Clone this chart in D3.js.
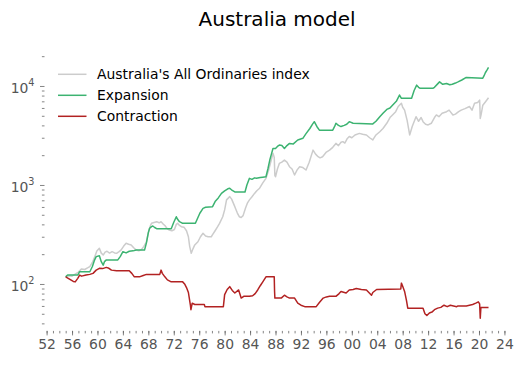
<!DOCTYPE html>
<html><head><meta charset="utf-8">
<script src="https://cdn.jsdelivr.net/npm/d3@7"></script>
<style>
body{margin:0;background:#fff}
svg{display:block}
text{font-family:"DejaVu Sans",sans-serif}
</style>
</head><body>
<svg id="chart" width="523" height="366"></svg>
<script>
const chartTitle = "Australia model";
const seriesNames = ["Australia's All Ordinaries index", "Expansion", "Contraction"];
const seriesColors = ["#cccccc", "#3cb371", "#b22222"];

const ordYears = [1955.0,1955.5,1956.0,1956.5,1957.0,1957.5,1958.0,1958.5,1958.8,1959.2,1959.6,1959.9,1960.3,1960.6,1960.9,1961.2,1961.5,1961.9,1962.3,1962.7,1963.0,1963.4,1963.7,1964.1,1964.5,1964.9,1965.3,1965.7,1966.1,1966.5,1966.9,1967.3,1967.7,1968.0,1968.3,1968.5,1968.9,1969.3,1969.7,1970.0,1970.3,1970.6,1971.0,1971.3,1971.7,1972.1,1972.4,1972.6,1972.9,1973.2,1973.6,1974.0,1974.3,1974.5,1974.75,1975.0,1975.3,1975.8,1976.2,1976.6,1977.0,1977.4,1977.9,1978.1,1978.5,1978.9,1979.2,1979.7,1980.0,1980.3,1980.8,1981.1,1981.6,1982.0,1982.3,1982.6,1982.9,1983.3,1983.6,1983.9,1984.3,1984.7,1985.1,1985.5,1986.0,1986.5,1986.9,1987.3,1987.6,1987.8,1987.9,1988.0,1988.3,1988.6,1989.0,1989.4,1989.8,1990.2,1990.6,1991.0,1991.4,1991.8,1992.3,1992.8,1993.3,1993.9,1994.3,1994.7,1995.0,1995.4,1996.0,1996.5,1997.0,1997.5,1997.9,1998.3,1998.6,1998.9,1999.3,1999.6,2000.0,2000.5,2001.2,2001.7,2002.3,2002.8,2003.3,2003.8,2004.4,2004.9,2005.5,2006.0,2006.4,2006.9,2007.3,2007.8,2008.0,2008.3,2008.7,2009.1,2009.5,2010.1,2010.5,2010.9,2011.2,2011.6,2012.0,2012.5,2013.0,2013.3,2013.7,2014.2,2014.9,2015.3,2015.9,2016.3,2016.8,2017.2,2017.8,2018.5,2018.9,2019.3,2019.8,2020.1,2020.15,2020.2,2020.35,2020.6,2021.0,2021.5];
const ordValues = [118,121,120,126,132,142,140,146,150,165,190,215,229,205,196,210,214,205,212,206,204,212,220,240,258,252,248,232,220,216,222,240,267,330,385,410,418,426,415,425,405,390,360,351,345,355,400,410,390,379,375,345,300,240,204,225,248,267,300,325,305,300,300,315,345,379,410,478,560,707,763,720,604,520,478,470,490,590,660,707,760,822,880,927,1050,1167,1400,1750,2087,1900,1250,1210,1450,1650,1700,1785,1700,1530,1450,1260,1420,1530,1500,1417,1700,2250,2050,1930,1880,1930,2150,2250,2400,2630,2500,2700,2740,2650,2950,3090,3000,3200,3320,3250,3200,3000,2850,3200,3450,3720,4200,4800,5100,5500,6200,6700,6100,5700,4500,3200,3900,4900,4400,4800,4360,4100,4040,4200,4800,5100,4900,5300,5500,5700,5100,5200,5500,5700,5900,6200,5700,6700,6800,7200,6000,4700,5200,6400,6900,7600];

const expYears = [1955.0,1955.3,1956.9,1957.2,1958.8,1959.2,1959.5,1959.8,1960.3,1960.6,1960.9,1961.1,1961.4,1963.2,1963.6,1964.0,1964.5,1965.0,1965.6,1966.1,1967.4,1967.7,1968.0,1968.2,1968.5,1968.7,1969.0,1969.3,1971.6,1972.0,1972.4,1972.6,1972.9,1973.4,1975.4,1975.8,1976.1,1976.6,1977.0,1978.1,1978.5,1979.0,1979.5,1980.0,1980.5,1980.8,1981.2,1981.6,1983.2,1983.5,1983.9,1984.3,1984.7,1985.0,1985.6,1986.0,1986.5,1986.8,1987.1,1987.4,1987.6,1988.0,1988.3,1988.6,1989.0,1989.4,1989.8,1990.2,1990.8,1991.5,1992.3,1992.8,1993.4,1993.8,1994.1,1994.5,1994.9,1997.0,1997.3,1997.5,1997.9,1998.3,1998.8,1999.2,1999.6,2000.2,2003.3,2003.8,2004.4,2004.9,2005.5,2006.0,2006.4,2007.0,2007.5,2007.8,2009.4,2009.8,2010.2,2010.5,2010.7,2012.8,2013.0,2013.5,2013.8,2014.3,2014.9,2015.4,2015.8,2016.3,2016.7,2017.3,2018.0,2020.6,2020.8,2021.0,2021.3,2021.5];
const expValues = [118,123,123,133,133,150,172,189,193,168,155,168,175,175,190,212,206,214,216,220,220,260,330,365,380,385,372,362,362,420,478,450,426,410,410,470,518,581,595,604,680,740,822,870,915,927,880,850,850,1000,1167,1140,1180,1170,1190,1200,1210,1450,1785,2100,2340,2340,2450,2530,2500,2340,2500,2630,2600,2850,2960,3300,3720,4100,4360,3900,3580,3580,3900,4200,4000,3890,4000,4100,4360,4200,4140,4400,4900,5300,5800,6000,6400,7000,8100,7500,7500,9000,10200,9700,9500,9500,9700,10500,11000,10400,10600,10300,10400,10700,11000,11500,12200,12000,12700,13600,14600,15400];

const conYears = [1955.0,1955.4,1955.8,1956.2,1956.5,1956.9,1957.2,1957.5,1958.2,1958.8,1959.3,1959.8,1960.3,1960.8,1961.4,1961.8,1962.2,1963.0,1965.0,1965.4,1965.8,1966.6,1967.2,1967.7,1969.8,1970.0,1970.2,1970.6,1971.0,1971.6,1973.4,1973.7,1974.0,1974.3,1974.6,1974.7,1974.9,1975.3,1976.8,1976.9,1979.8,1980.0,1980.4,1980.8,1981.2,1981.6,1982.2,1982.6,1983.0,1983.9,1984.4,1984.8,1985.2,1985.6,1986.0,1986.5,1987.8,1987.85,1987.9,1988.9,1989.4,1989.8,1990.2,1991.0,1991.5,1992.0,1992.6,1994.4,1994.9,1995.5,1996.0,1996.5,1997.5,1998.0,1998.3,1999.1,1999.6,2000.2,2000.7,2001.5,2002.3,2003.1,2003.3,2003.9,2007.7,2007.8,2008.0,2008.3,2008.6,2008.8,2011.2,2011.5,2011.8,2012.2,2012.6,2013.0,2013.5,2014.0,2014.5,2015.0,2015.5,2016.0,2016.5,2016.7,2018.0,2018.5,2019.0,2019.5,2019.9,2020.1,2020.2,2020.3,2020.6,2021.5];
const conValues = [118,114,110,106,105,114,123,120,123,125,128,138,144,143,147,144,138,136,136,128,118,118,122,125,125,138,128,118,110,105,105,100,92,82,62,55,64,62,62,59,59,78,88,94,86,81,87,72,75,75,76,80,87,96,105,118,118,85,72,72,77,74,72,72,64,61,59,59,65,72,74,75,75,80,84,81,87,88,90,88,87,77,82,88,89,102,95,84,68,57,57,50,48,51,52,55,57,58,61,59,61,60,59,60,60,61,62,64,66,63,45,58,58,58];

const xMajorTicks = [1952,1956,1960,1964,1968,1972,1976,1980,1984,1988,1992,1996,2000,2004,2008,2012,2016,2020,2024];
const xTickLabels = ["52","56","60","64","68","72","76","80","84","88","92","96","00","04","08","12","16","20","24"];
const yMajorTicks = [100, 1000, 10000];
const yTickExponents = ["2","3","4"];

const svg = d3.select("#chart");
const plotLeft = 44.5, plotRight = 509.7, plotTop = 54.8, plotBottom = 330.9;

const x = d3.scaleLinear().domain([1951.67, 2024.83]).range([plotLeft, plotRight]);
const y = d3.scaleLog().domain([33.57, 20654]).range([plotBottom, plotTop]);

const tickColor = "#666";
const labelColor = "#555";

// title
svg.append("text").attr("x", (plotLeft + plotRight) / 2).attr("y", 26)
  .attr("text-anchor", "middle").attr("font-size", "20px").attr("fill", "#000")
  .text(chartTitle);

// x axis minor
const xMinor = d3.range(1952, 2025);
const gxm = svg.append("g").attr("transform", `translate(0,${plotBottom})`)
  .call(d3.axisBottom(x).tickValues(xMinor).tickSize(2.5).tickFormat(""));
gxm.select(".domain").remove();
gxm.selectAll("line").attr("stroke", tickColor).attr("stroke-width", 0.8);

const gx = svg.append("g").attr("transform", `translate(0,${plotBottom})`)
  .call(d3.axisBottom(x).tickValues(xMajorTicks).tickSize(4.5).tickPadding(4)
    .tickFormat((d, i) => xTickLabels[i]));
gx.select(".domain").remove();
gx.selectAll("line").attr("stroke", tickColor).attr("stroke-width", 0.8);
gx.selectAll("text").attr("font-size", "13.9px").attr("fill", labelColor)
  .attr("font-family", "DejaVu Sans");

// y axis minor
const yMinor = [];
[10, 100, 1000, 10000].forEach(b => { for (let k = 2; k <= 9; k++) { const v = b * k; if (v >= 33.57 && v <= 20654) yMinor.push(v); } });
const gym = svg.append("g").attr("transform", `translate(${plotLeft},0)`)
  .call(d3.axisLeft(y).tickValues(yMinor).tickSize(2.6).tickFormat(""));
gym.select(".domain").remove();
gym.selectAll("line").attr("stroke", tickColor).attr("stroke-width", 0.8);

const gy = svg.append("g").attr("transform", `translate(${plotLeft},0)`)
  .call(d3.axisLeft(y).tickValues(yMajorTicks).tickSize(4.5).tickFormat(""));
gy.select(".domain").remove();
gy.selectAll("line").attr("stroke", tickColor).attr("stroke-width", 0.8);
gy.selectAll(".tick").each(function(d, i) {
  const t = d3.select(this).append("text")
    .attr("x", -10).attr("y", 0).attr("text-anchor", "end")
    .attr("fill", labelColor).attr("font-size", "13.9px");
  t.append("tspan").attr("dy", "6.6").text("10");
  t.append("tspan").attr("dy", "-6.6").attr("font-size", "9.7px").text(yTickExponents[i]);
});

// lines
const line = d3.line().x(d => x(d[0])).y(d => y(d[1]));
const series = [
  d3.zip(ordYears, ordValues),
  d3.zip(expYears, expValues),
  d3.zip(conYears, conValues)
];
series.forEach((s, i) => {
  svg.append("path").datum(s).attr("d", line)
    .attr("fill", "none").attr("stroke", seriesColors[i])
    .attr("stroke-width", 1.5).attr("stroke-linejoin", "round");
});

// legend
const lg = svg.append("g");
seriesNames.forEach((n, i) => {
  const yy = 74.3 + i * 21;
  lg.append("line").attr("x1", 58).attr("x2", 86.5).attr("y1", yy).attr("y2", yy)
    .attr("stroke", seriesColors[i]).attr("stroke-width", 1.5);
  lg.append("text").attr("x", 97).attr("y", yy + 5).attr("font-size", "13.9px")
    .attr("fill", "#000").text(n);
});
</script>
</body></html>
